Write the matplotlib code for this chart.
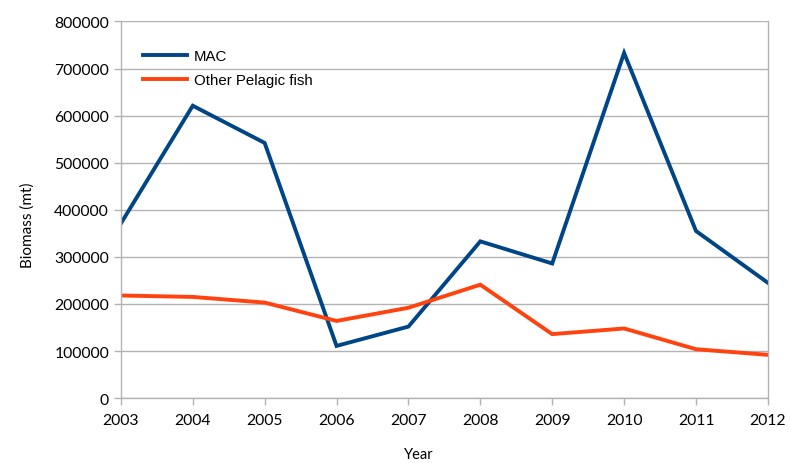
import matplotlib.pyplot as plt
from matplotlib.ticker import MultipleLocator

years = [2003, 2004, 2005, 2006, 2007, 2008, 2009, 2010, 2011, 2012]
mac = [371000, 621000, 542000, 111000, 152000, 333000, 286000, 733000, 355000, 245000]
other_pelagic = [218000, 215000, 203000, 164000, 192000, 241000, 136000, 148000, 104000, 92000]

grey = '#b3b3b3'

fig = plt.figure(figsize=(7.9, 4.64), dpi=100)
ax = fig.add_axes([0.153, 0.1397, 0.819, 0.812])

ax.plot(years, mac, color='#004586', lw=2.8, label='MAC', solid_joinstyle='miter')
ax.plot(years, other_pelagic, color='#ff420e', lw=2.8, label='Other Pelagic fish', solid_joinstyle='miter')

ax.set_xlim(2003, 2012)
ax.set_ylim(0, 800000)
ax.xaxis.set_major_locator(MultipleLocator(1))
ax.yaxis.set_major_locator(MultipleLocator(100000))

# horizontal grid only, like the spreadsheet original
ax.grid(True, axis='y', color=grey, lw=1)
ax.set_axisbelow(True)
for side in ['left', 'right', 'bottom']:
    ax.spines[side].set_color(grey)
    ax.spines[side].set_linewidth(1)
ax.spines['top'].set_visible(False)

ax.tick_params(axis='both', color=grey, length=5, width=1, labelsize=11.3)
ax.tick_params(axis='y', pad=3.5)
ax.tick_params(axis='x', pad=6)
for lbl in ax.get_xticklabels() + ax.get_yticklabels():
    lbl.set_family('Lato')

ax.set_xlabel('Year', family='Lato', fontsize=10.5)
ax.set_ylabel('Biomass (mt)', family='Lato', fontsize=11)
ax.xaxis.set_label_coords(0.46, -0.13)
ax.yaxis.set_label_coords(-0.133, 0.462)

ax.legend(loc='upper left', bbox_to_anchor=(0.014, 0.962), frameon=False,
          handlelength=2.9, handletextpad=0.45, labelspacing=0.65,
          prop={'family': 'Liberation Sans', 'size': 10.8})

fig.savefig('out.png', dpi=100)
